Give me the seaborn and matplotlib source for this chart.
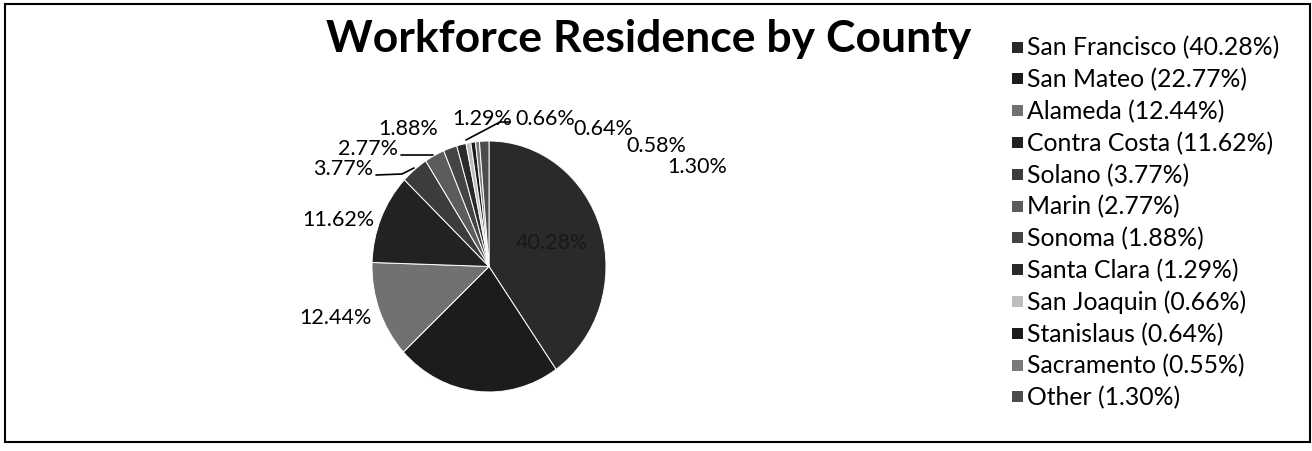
import matplotlib
matplotlib.use("Agg")
import matplotlib.pyplot as plt
from matplotlib.lines import Line2D
from matplotlib.patches import Rectangle
import seaborn as sns

# Share of the workforce by county of residence (percent)
counties = ["San Francisco", "San Mateo", "Alameda", "Contra Costa", "Solano",
            "Marin", "Sonoma", "Santa Clara", "San Joaquin", "Stanislaus",
            "Sacramento", "Other"]
shares = [40.28, 22.77, 12.44, 11.62, 3.77, 2.77, 1.88, 1.29, 0.66, 0.64, 0.55, 1.30]
legend_pct = ["40.28%", "22.77%", "12.44%", "11.62%", "3.77%", "2.77%", "1.88%",
              "1.29%", "0.66%", "0.64%", "0.55%", "1.30%"]
# data labels printed next to each slice
slice_pct = ["40.28%", "", "12.44%", "11.62%", "3.77%", "2.77%", "1.88%",
             "1.29%", "0.66%", "0.64%", "0.58%", "1.30%"]

grays = ["#2a2a2a", "#1c1c1c", "#717171", "#222222", "#3c3c3c", "#5c5c5c",
         "#444444", "#2a2a2a", "#bdbdbd", "#1c1c1c", "#7a7a7a", "#4c4c4c"]

W, H = 1312, 452
sns.set_theme(style="white")
plt.rcParams["font.family"] = ["Lato", "DejaVu Sans"]

fig = plt.figure(figsize=(W / 100, H / 100), dpi=100)
fig.patch.set_facecolor("white")


def fx(px):
    return px / W


def fy(py):
    return 1 - py / H


# pie area (slightly taller than wide)
cx, cy, rx, ry = 489, 267.5, 117, 125.5
ax = fig.add_axes([fx(cx - rx), fy(cy + ry), 2 * rx / W, 2 * ry / H])
wedges, _ = ax.pie(shares, colors=grays, startangle=90, counterclock=False,
                   radius=1.0, wedgeprops=dict(edgecolor="white", linewidth=0.7))
ax.set_xlim(-1, 1)
ax.set_ylim(-1, 1)
ax.set_aspect("auto")
ax.axis("off")

# label anchor points (figure pixels)
label_xy = [(552, 243), None, (335, 318), (338, 220), (343, 169), (368, 149),
            (408, 129), (482, 119), (545, 119), (603, 129), (656, 146), (697, 167)]
for txt, xy in zip(slice_pct, label_xy):
    if xy is None or not txt:
        continue
    color = "#181818" if txt == "40.28%" else "black"
    fig.text(fx(xy[0]), fy(xy[1]), txt, ha="center", va="center",
             fontsize=15.5, color=color)

# leader lines
leaders = [
    [(376, 176), (402, 175), (414, 169)],
    [(401, 156), (433, 156)],
    [(466, 141), (500, 123), (510, 123)],
]
for pts in leaders:
    xs = [fx(p[0]) for p in pts]
    ys = [fy(p[1]) for p in pts]
    fig.add_artist(Line2D(xs, ys, transform=fig.transFigure, color="black", lw=1.2))

fig.text(fx(649), fy(39), "Workforce Residence by County", ha="center", va="center",
         fontsize=32, fontweight="bold", color="black")

# legend: one swatch + caption per county
legend_labels = [f"{c} ({p})" for c, p in zip(counties, legend_pct)]
row0, pitch, sw = 48, 31.8, 11
for i, (lab, col) in enumerate(zip(legend_labels, grays)):
    yc = row0 + i * pitch
    fig.add_artist(Rectangle((fx(1012), fy(yc + sw / 2)), sw / W, sw / H,
                             transform=fig.transFigure, facecolor=col,
                             edgecolor="none"))
    fig.text(fx(1027), fy(yc), lab, ha="left", va="center", fontsize=17.8,
             color="black")

fig.add_artist(Rectangle((fx(5), fy(443)), fx(1310) - fx(5), fy(5) - fy(443),
                         transform=fig.transFigure, fill=False,
                         edgecolor="black", linewidth=1.5))

fig.savefig("out.png", dpi=100, facecolor="white")
